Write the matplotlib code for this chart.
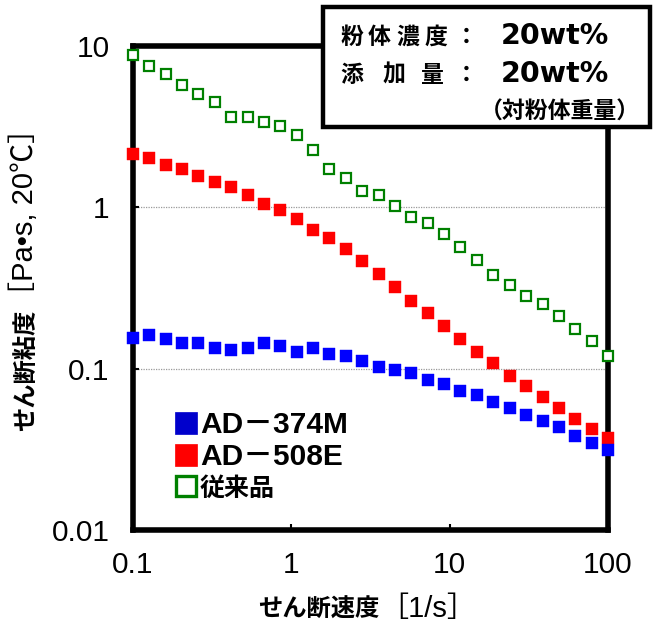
import matplotlib
matplotlib.use("Agg")
import matplotlib.pyplot as plt
from matplotlib.lines import Line2D
from matplotlib.patches import Rectangle
from matplotlib.transforms import IdentityTransform
from matplotlib.ticker import FixedLocator, FixedFormatter, NullLocator

# ---------------- data ----------------
shear_rate = [0.1, 0.127, 0.161, 0.204, 0.259, 0.329, 0.418, 0.530, 0.672, 0.853,
              1.08, 1.37, 1.74, 2.21, 2.81, 3.56, 4.52, 5.74, 7.28, 9.24,
              11.7, 14.9, 18.9, 24.0, 30.4, 38.6, 49.0, 62.1, 78.8, 100]

visc_ad374m = [0.156, 0.162, 0.152, 0.1435, 0.1435, 0.1345, 0.1306, 0.1345, 0.1435, 0.139,
               0.127, 0.1345, 0.1227, 0.119, 0.112, 0.102, 0.0986, 0.0935, 0.0846, 0.0798,
               0.0729, 0.0686, 0.0623, 0.0570, 0.0518, 0.0473, 0.0432, 0.0382, 0.0348, 0.0314]

visc_ad508e = [2.13, 2.01, 1.83, 1.72, 1.57, 1.44, 1.34, 1.19, 1.05, 0.962,
               0.851, 0.727, 0.644, 0.551, 0.462, 0.384, 0.319, 0.264, 0.220, 0.183,
               0.152, 0.127, 0.1086, 0.0905, 0.0776, 0.0667, 0.0570, 0.0489, 0.0420, 0.0371]

visc_conventional = [8.8, 7.5, 6.67, 5.7, 5.06, 4.47, 3.61, 3.61, 3.39, 3.18,
                     2.81, 2.27, 1.74, 1.53, 1.27, 1.2, 1.02, 0.875, 0.80, 0.682,
                     0.570, 0.473, 0.382, 0.328, 0.281, 0.250, 0.212, 0.177, 0.148, 0.119]

series_labels = ["AD－374M", "AD－508E", "従来品"]

x_ticks = [0.1, 1, 10, 100]
x_ticklabels = ["0.1", "1", "10", "100"]
y_ticks = [0.01, 0.1, 1, 10]
y_ticklabels = ["0.01", "0.1", "1", "10"]

xlabel_jp = "せん断速度"
xlabel_unit = "［1/s］"
ylabel_jp = "せん断粘度"
ylabel_unit = "［Pa•s, 20℃］"

box_line1 = ["粉", "体", "濃", "度", "：", "20wt%"]
box_line2 = ["添", "加", "量", "：", "20wt%"]
box_line3 = "（対粉体重量）"

# ---------------- figure ----------------
W, H = 654, 633
fig = plt.figure(figsize=(W / 100, H / 100), dpi=100)
fig.patch.set_facecolor("white")

L, R, T, B = 133, 608, 46, 530
ax = fig.add_axes([L / W, 1 - B / H, (R - L) / W, (B - T) / H])
ax.set_xscale("log")
ax.set_yscale("log")
ax.set_xlim(0.1, 100)
ax.set_ylim(0.01, 10)

ms_fill = 8.6
ax.plot(shear_rate, visc_conventional, ls="none", marker="s", ms=7.4,
        mfc="white", mec="#008000", mew=1.6, clip_on=False, zorder=4)
ax.plot(shear_rate, visc_ad508e, ls="none", marker="s", ms=ms_fill,
        mfc="#FF0000", mec="#FF0000", mew=0.3, clip_on=False, zorder=5)
ax.plot(shear_rate, visc_ad374m, ls="none", marker="s", ms=ms_fill,
        mfc="#0000FF", mec="#0000FF", mew=0.3, clip_on=False, zorder=6)

for s in ax.spines.values():
    s.set_linewidth(4.0)
    s.set_color("black")

ax.xaxis.set_major_locator(FixedLocator(x_ticks))
ax.xaxis.set_major_formatter(FixedFormatter(x_ticklabels))
ax.yaxis.set_major_locator(FixedLocator(y_ticks))
ax.yaxis.set_major_formatter(FixedFormatter(y_ticklabels))
ax.xaxis.set_minor_locator(NullLocator())
ax.yaxis.set_minor_locator(NullLocator())
ax.tick_params(axis="both", which="major", direction="in", length=4, width=1.5,
               labelsize=21.5)
ax.tick_params(axis="x", pad=15)
ax.tick_params(axis="y", pad=17)
for lab in ax.get_xticklabels() + ax.get_yticklabels():
    lab.set_family(["Liberation Sans", "DejaVu Sans"])

ax.set_axisbelow(True)
ax.grid(axis="y", which="major", color="#9a9a9a", ls=(0, (1, 1)), lw=0.9)

# ---------------- legend ----------------
handles = [
    Line2D([], [], ls="none", marker="s", ms=16, mfc="#0000CC", mec="#0000CC", mew=0.5),
    Line2D([], [], ls="none", marker="s", ms=16, mfc="#FF0000", mec="#FF0000", mew=0.5),
    Line2D([], [], ls="none", marker="s", ms=14, mfc="white", mec="#008000", mew=2.4),
]
leg = ax.legend(handles, series_labels, loc="upper left",
                bbox_to_anchor=(175 / W, 1 - 411 / H), bbox_transform=fig.transFigure,
                frameon=False, borderpad=0, borderaxespad=0, handlelength=0.75,
                handletextpad=0.08, labelspacing=0.14,
                prop={"family": ["Liberation Sans", "Noto Sans CJK JP"], "size": 21.5,
                      "weight": "bold"})
leg.set_zorder(7)
t3 = leg.get_texts()[2]
t3.set_family(["Noto Sans CJK JP"])
t3.set_fontweight("bold")
t3.set_fontsize(18)

# ---------------- annotation box ----------------
idt = IdentityTransform()
box = Rectangle((323, H - 127), 327, 120, transform=idt, facecolor="white",
                edgecolor="black", lw=3.2, zorder=10)
fig.add_artist(box)

cjk_bold = dict(family=["Noto Sans CJK JP"], fontweight="bold", fontsize=16.5,
                transform=idt, zorder=11, va="baseline", ha="left")
lat_bold = dict(family=["DejaVu Sans"], fontweight="bold", fontsize=20.5,
                transform=idt, zorder=11, va="baseline", ha="left")

line1_x = [340, 368, 396, 425, 455, 501]
for s, xx in zip(box_line1, line1_x):
    fig.text(xx, H - 44, s, **(lat_bold if s.startswith("20") else cjk_bold))
line2_x = [340, 383, 421, 455, 501]
for s, xx in zip(box_line2, line2_x):
    fig.text(xx, H - 82, s, **(lat_bold if s.startswith("20") else cjk_bold))
fig.text(640, H - 119, box_line3, **dict(cjk_bold, ha="right"))

# ---------------- axis labels ----------------
renderer = fig.canvas.get_renderer()
lab_jp = dict(family=["Noto Sans CJK JP"], fontweight="bold", fontsize=17.5, transform=idt)
lab_unit = dict(family=["Liberation Sans", "Noto Sans CJK JP"], fontweight="normal",
                fontsize=21, transform=idt)

# x label
xl1 = fig.text(258, H - 617, xlabel_jp, ha="left", va="baseline", **lab_jp)
bb = xl1.get_window_extent(renderer)
fig.text(bb.x1, H - 617, xlabel_unit, ha="left", va="baseline", **lab_unit)

# y label (rotated)
yl1 = fig.text(33, H - 431, ylabel_jp, ha="left", va="baseline", rotation=90,
               rotation_mode="anchor", **lab_jp)
bb = yl1.get_window_extent(renderer)
fig.text(33, bb.y1, ylabel_unit, ha="left", va="baseline", rotation=90,
         rotation_mode="anchor", **lab_unit)

fig.savefig("out.png", dpi=100, facecolor="white")
